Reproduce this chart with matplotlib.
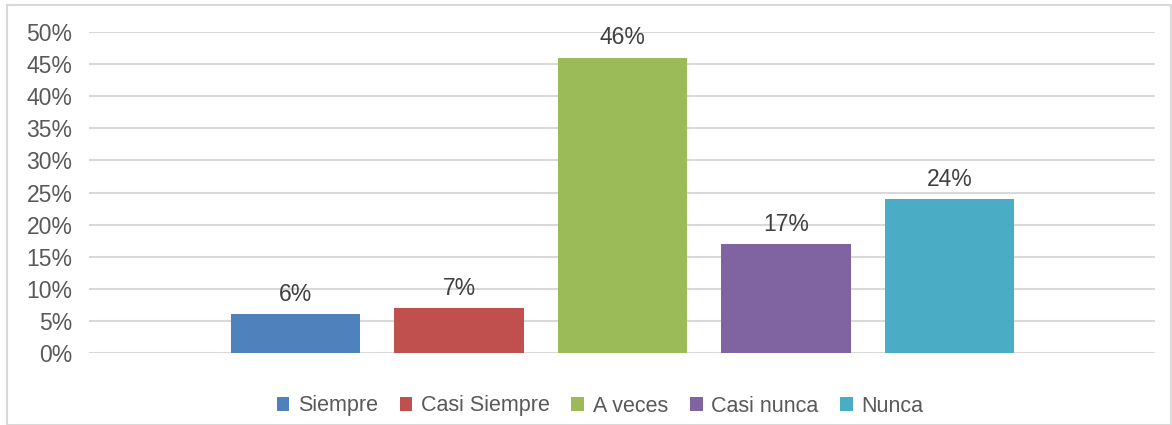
import matplotlib.pyplot as plt
from matplotlib.patches import Rectangle

categories = ['Siempre', 'Casi Siempre', 'A veces', 'Casi nunca', 'Nunca']
values = [6, 7, 46, 17, 24]
colors = ['#4F81BD', '#C0504D', '#9BBB59', '#8064A2', '#4BACC6']
yticks = [0, 5, 10, 15, 20, 25, 30, 35, 40, 45, 50]

plt.rcParams['font.family'] = ['Liberation Sans', 'DejaVu Sans']

W, H = 1172, 425
fig = plt.figure(figsize=(W / 100, H / 100), dpi=100)
ax = fig.add_axes([89 / W, 1 - 353 / H, (1155 - 89) / W, (353 - 32) / H])

x = list(range(len(categories)))
bars = ax.bar(x, values, width=0.79, color=colors, label=categories, zorder=3)
for xi, v in zip(x, values):
    ax.annotate(f'{v}%', (xi, v), xytext=(0, 6), textcoords='offset points',
                ha='center', va='bottom', fontsize=16.5, color='#404040')

ax.set_xlim(-1.263, 5.257)
ax.set_ylim(0, 50)
ax.set_yticks(yticks)
ax.set_yticklabels([f'{t}%' for t in yticks], fontsize=16.5, color='#595959')
ax.set_xticks([])
ax.tick_params(axis='y', length=0, pad=12)
ax.grid(axis='y', color='#D9D9D9', linewidth=1.5, zorder=0)
for s in ax.spines.values():
    s.set_visible(False)

leg = fig.legend(bars, categories, loc='center', bbox_to_anchor=(0.512, 1 - 406 / H),
                 ncol=5, frameon=False, fontsize=15.5, handlelength=0.6, handleheight=0.6,
                 handletextpad=0.4, columnspacing=1.0)
for t in leg.get_texts():
    t.set_color('#595959')

fig.patches.append(Rectangle((7 / W, 0), 1 - 8 / W, 1 - 5 / H, transform=fig.transFigure,
                             fill=False, edgecolor='#D9D9D9', linewidth=1.5))

fig.savefig('out.png', dpi=100)
